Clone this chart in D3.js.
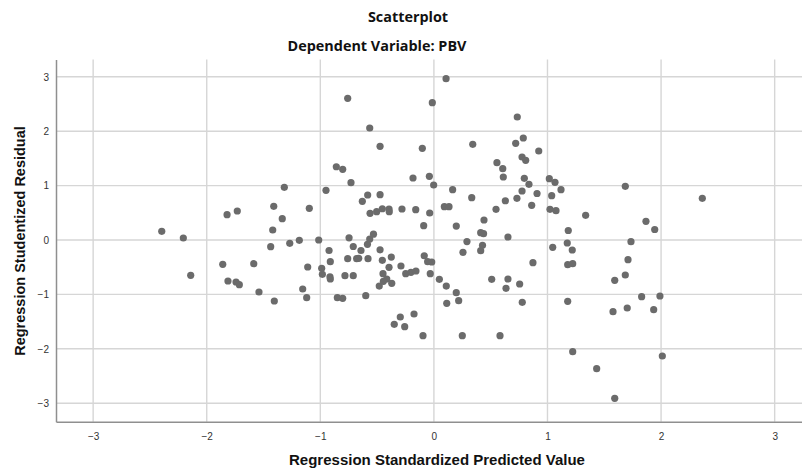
<!DOCTYPE html>
<html><head><meta charset="utf-8">
<script src="https://cdn.jsdelivr.net/npm/d3@7"></script>
<style>body{margin:0;background:#fff}svg{display:block}</style>
</head><body>
<svg id="c" width="802" height="470"></svg>
<script>
const title = "Scatterplot";
const subtitle = "Dependent Variable: PBV";
const xLabel = "Regression Standardized Predicted Value";
const yLabel = "Regression Studentized Residual";
const xTicks = [-3,-2,-1,0,1,2,3];
const yTicks = [-3,-2,-1,0,1,2,3];
const predicted = [-2.396,-2.206,-2.141,-1.821,-1.731,-1.859,-1.813,-1.742,-1.713,-1.586,-1.540,-1.405,-1.437,-1.419,-1.410,-1.335,-1.317,-1.269,-1.185,-1.097,-1.111,-1.155,-1.120,-1.014,-0.988,-0.982,-0.950,-0.923,-0.912,-0.915,-0.912,-0.859,-0.850,-0.803,-0.803,-0.783,-0.759,-0.759,-0.747,-0.730,-0.710,-0.710,-0.680,-0.662,-0.642,-0.630,-0.600,-0.583,-0.585,-0.580,-0.565,-0.565,-0.562,-0.532,-0.504,-0.481,-0.474,-0.474,-0.474,-0.454,-0.454,-0.448,-0.445,-0.415,-0.395,-0.393,-0.395,-0.375,-0.371,-0.349,-0.296,-0.290,-0.281,-0.257,-0.248,-0.202,-0.184,-0.175,-0.160,-0.158,-0.102,-0.096,-0.090,-0.085,-0.055,-0.040,-0.037,-0.032,-0.019,-0.014,-0.002,0.048,0.092,0.107,0.109,0.113,0.133,0.165,0.197,0.197,0.218,0.250,0.256,0.291,0.333,0.342,0.412,0.437,0.428,0.412,0.441,0.509,0.547,0.555,0.582,0.606,0.611,0.629,0.635,0.652,0.652,0.720,0.734,0.731,0.755,0.776,0.776,0.778,0.787,0.796,0.808,0.837,0.861,0.872,0.908,0.923,1.016,1.037,1.022,1.046,1.066,1.075,1.119,1.174,1.183,1.178,1.222,1.218,1.178,1.222,1.336,1.433,1.577,1.592,1.592,1.685,1.685,1.702,1.709,1.735,1.829,1.867,1.935,1.944,1.990,2.011,2.363];
const residual = [0.160,0.037,-0.649,0.465,0.533,-0.447,-0.754,-0.772,-0.822,-0.436,-0.956,-1.121,-0.123,0.184,0.619,0.392,0.969,-0.061,-0.006,0.583,-0.496,-0.901,-1.061,0.000,-0.520,-0.631,0.914,-0.193,-0.399,-0.675,-0.717,1.347,-1.061,1.300,-1.072,-0.656,2.605,-0.344,0.040,1.053,-0.119,-0.656,-0.344,-0.336,-0.193,0.711,-1.024,0.827,-0.079,-0.344,2.059,0.018,0.491,0.107,0.520,-0.846,1.722,0.833,-0.180,0.575,-0.373,-0.619,-0.759,-0.717,0.570,0.520,-0.502,-0.313,-0.796,-1.550,-1.415,-0.478,0.570,-1.594,-0.619,-0.594,1.140,-1.360,0.557,-0.570,1.686,-1.759,0.263,-0.289,-0.399,1.171,0.496,-0.619,-0.404,2.524,1.011,-0.722,0.612,2.965,-0.846,-1.164,0.612,0.925,0.257,-0.969,-1.116,-1.759,-0.226,-0.028,0.778,1.759,0.134,0.116,-0.097,-0.197,0.368,-0.722,0.564,1.421,-1.759,1.311,1.158,0.722,-0.888,0.055,-0.717,1.778,2.261,0.767,-0.809,1.526,0.901,-1.145,1.875,1.134,1.465,1.024,0.638,-0.417,0.855,1.636,1.127,0.814,0.564,-0.134,1.061,0.539,0.925,-0.055,0.175,-0.454,-0.436,-0.184,-1.127,-2.053,0.454,-2.366,-1.318,-0.741,-2.910,0.987,-0.643,-1.250,-0.362,-0.031,-1.042,0.344,-1.281,0.193,-1.029,-2.132,0.767];

const svg = d3.select("#c");
const L = 56, T = 59.4, B = 421.7, R = 811.8;
const x = d3.scaleLinear().domain([-3.327, 3.327]).range([L, R]);
const y = d3.scaleLinear().domain([-3.34, 3.32]).range([B, T]);

// gridlines
const g = svg.append("g");
g.selectAll("line.vx").data(xTicks).join("line")
  .attr("x1", d => x(d)).attr("x2", d => x(d)).attr("y1", T).attr("y2", B)
  .attr("stroke", "#d6d6d6").attr("stroke-width", 1.4);
g.selectAll("line.hy").data(yTicks).join("line")
  .attr("x1", L).attr("x2", 802).attr("y1", d => y(d)).attr("y2", d => y(d))
  .attr("stroke", "#d6d6d6").attr("stroke-width", 1.4);

// axes
const xAxis = d3.axisBottom(x).tickValues(xTicks).tickSize(0).tickPadding(11).tickFormat(d3.format("d"));
const yAxis = d3.axisLeft(y).tickValues(yTicks).tickSize(0).tickPadding(7).tickFormat(d3.format("d"));
const gx = svg.append("g").attr("transform", `translate(0,${B})`).call(xAxis);
const gy = svg.append("g").attr("transform", `translate(${L},0)`).call(yAxis);
[gx, gy].forEach(a => {
  a.select(".domain").attr("stroke", "#8f8f8f").attr("stroke-width", 1.5);
  a.selectAll("text").attr("font-family", "Liberation Sans, Arial, sans-serif").attr("font-size", 10).attr("fill", "#333");
});

// points
svg.append("g").selectAll("circle").data(predicted.map((p, i) => [p, residual[i]])).join("circle")
  .attr("cx", d => x(d[0])).attr("cy", d => y(d[1])).attr("r", 3.6).attr("fill", "#6b6b6b");

// titles
svg.append("text").attr("x", 408).attr("y", 22).attr("text-anchor", "middle")
  .attr("font-family", "Open Sans, sans-serif").attr("font-weight", "bold").attr("font-size", 14.4).attr("fill", "#111").text(title);
svg.append("text").attr("x", 377).attr("y", 51).attr("text-anchor", "middle")
  .attr("font-family", "Open Sans, sans-serif").attr("font-weight", "bold").attr("font-size", 14.4).attr("fill", "#111").text(subtitle);
svg.append("text").attr("x", 437).attr("y", 465).attr("text-anchor", "middle")
  .attr("font-family", "Liberation Sans, Arial, sans-serif").attr("font-weight", "bold").attr("font-size", 15).attr("fill", "#111").text(xLabel);
svg.append("text").attr("transform", "translate(25,241) rotate(-90)").attr("text-anchor", "middle")
  .attr("font-family", "Liberation Sans, Arial, sans-serif").attr("font-weight", "bold").attr("font-size", 14.5).attr("fill", "#111").text(yLabel);
</script>
</body></html>
